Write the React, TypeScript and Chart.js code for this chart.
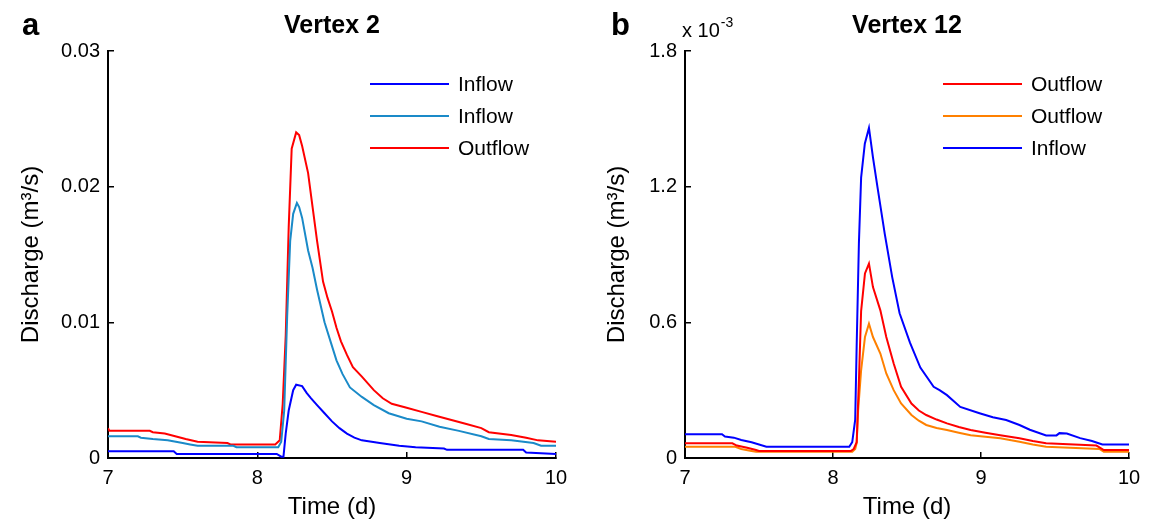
import React, { useEffect, useRef } from 'react';
import { Chart, registerables } from 'chart.js';

Chart.register(...registerables);

// ---------- data ----------
const timeTicks = [7, 8, 9, 10];
const v2Ticks = [0, 0.01, 0.02, 0.03];
const v12Ticks = [0, 0.6, 1.2, 1.8]; // ×10^-3

const v2Labels = ['Inflow', 'Inflow', 'Outflow'];
const v12Labels = ['Outflow', 'Outflow', 'Inflow'];

// Vertex 2, discharge in m3/s, [time (d), value]
const v2InflowA: [number, number][] = [
  [7.0, 0.0005], [7.44, 0.0005], [7.46, 0.0003], [8.13, 0.0003], [8.16, 0.0001], [8.175, 0.0001],
  [8.19, 0.0018], [8.21, 0.0035], [8.24, 0.005], [8.26, 0.0054], [8.3, 0.0053], [8.33, 0.0048],
  [8.36, 0.0044], [8.4, 0.0039], [8.45, 0.0033], [8.5, 0.0027], [8.55, 0.0022], [8.6, 0.0018],
  [8.65, 0.0015], [8.7, 0.0013], [8.82, 0.0011], [8.95, 0.0009], [9.06, 0.0008], [9.25, 0.0007],
  [9.27, 0.0006], [9.78, 0.0006], [9.8, 0.0004], [10.0, 0.0003],
];
const v2InflowB: [number, number][] = [
  [7.0, 0.0016], [7.2, 0.0016], [7.22, 0.0015], [7.3, 0.0014], [7.4, 0.0013], [7.5, 0.0011],
  [7.55, 0.001], [7.6, 0.0009], [7.84, 0.0009], [7.86, 0.0008], [8.14, 0.0008], [8.16, 0.0012],
  [8.18, 0.0035], [8.2, 0.0105], [8.22, 0.016], [8.24, 0.018], [8.265, 0.0188], [8.28, 0.0185],
  [8.3, 0.0177], [8.34, 0.0153], [8.37, 0.014], [8.4, 0.0124], [8.45, 0.01], [8.49, 0.0086],
  [8.53, 0.0072], [8.57, 0.0062], [8.62, 0.0052], [8.7, 0.0045], [8.78, 0.0039], [8.88, 0.0033],
  [9.0, 0.0029], [9.1, 0.0027], [9.22, 0.0023], [9.35, 0.002], [9.5, 0.0016], [9.55, 0.0014],
  [9.7, 0.0013], [9.85, 0.0011], [9.9, 0.0009], [10.0, 0.0009],
];
const v2Outflow: [number, number][] = [
  [7.0, 0.0022], [7.01, 0.002], [7.28, 0.002], [7.3, 0.0019], [7.38, 0.0018], [7.45, 0.0016],
  [7.52, 0.0014], [7.6, 0.0012], [7.8, 0.0011], [7.82, 0.001], [8.12, 0.001], [8.15, 0.0013],
  [8.17, 0.004], [8.19, 0.009], [8.21, 0.017], [8.23, 0.0228], [8.26, 0.024], [8.28, 0.0238],
  [8.3, 0.023], [8.34, 0.021], [8.37, 0.0185], [8.4, 0.016], [8.44, 0.013], [8.47, 0.0118],
  [8.5, 0.0108], [8.53, 0.0096], [8.56, 0.0086], [8.6, 0.0076], [8.64, 0.0067], [8.7, 0.006],
  [8.78, 0.005], [8.84, 0.0044], [8.9, 0.004], [9.0, 0.0037], [9.1, 0.0034], [9.2, 0.0031],
  [9.3, 0.0028], [9.4, 0.0025], [9.5, 0.0022], [9.55, 0.0019], [9.7, 0.0017], [9.8, 0.0015],
  [9.88, 0.0013], [10.0, 0.0012],
];

// Vertex 12, discharge in 10^-3 m3/s, [time (d), value]
const v12OutflowA: [number, number][] = [
  [7.0, 0.065], [7.32, 0.065], [7.35, 0.055], [7.42, 0.045], [7.48, 0.035], [7.5, 0.031],
  [8.12, 0.031], [8.14, 0.04], [8.16, 0.07], [8.176, 0.36], [8.19, 0.65], [8.216, 0.816],
  [8.243, 0.86], [8.27, 0.756], [8.32, 0.653], [8.36, 0.535], [8.41, 0.418], [8.46, 0.315],
  [8.53, 0.241], [8.58, 0.21], [8.63, 0.19], [8.7, 0.17], [8.77, 0.153], [8.85, 0.137],
  [8.93, 0.124], [9.03, 0.112], [9.13, 0.101], [9.26, 0.087], [9.35, 0.075], [9.44, 0.065],
  [9.78, 0.055], [9.83, 0.035], [10.0, 0.035],
];
const v12OutflowB: [number, number][] = [
  [7.0, 0.05], [7.34, 0.05], [7.38, 0.04], [7.44, 0.032], [7.48, 0.028], [8.13, 0.028],
  [8.15, 0.04], [8.16, 0.066], [8.17, 0.212], [8.19, 0.388], [8.216, 0.535], [8.243, 0.594],
  [8.27, 0.535], [8.32, 0.462], [8.36, 0.374], [8.41, 0.3], [8.46, 0.241], [8.53, 0.19],
  [8.58, 0.165], [8.63, 0.146], [8.7, 0.133], [8.77, 0.124], [8.85, 0.112], [8.93, 0.101],
  [9.03, 0.094], [9.13, 0.087], [9.26, 0.072], [9.35, 0.06], [9.44, 0.05], [9.8, 0.04],
  [9.83, 0.028], [10.0, 0.028],
];
const v12Inflow: [number, number][] = [
  [7.0, 0.105], [7.25, 0.105], [7.27, 0.095], [7.33, 0.09], [7.38, 0.08], [7.45, 0.07],
  [7.55, 0.05], [8.11, 0.05], [8.13, 0.07], [8.15, 0.17], [8.16, 0.5], [8.175, 0.95],
  [8.19, 1.24], [8.215, 1.39], [8.243, 1.46], [8.27, 1.33], [8.3, 1.2], [8.35, 0.99],
  [8.4, 0.8], [8.45, 0.64], [8.52, 0.51], [8.59, 0.4], [8.68, 0.315], [8.72, 0.3],
  [8.77, 0.278], [8.86, 0.226], [8.99, 0.198], [9.08, 0.18], [9.17, 0.168], [9.26, 0.146],
  [9.33, 0.125], [9.44, 0.1], [9.51, 0.1], [9.53, 0.11], [9.58, 0.108], [9.67, 0.088],
  [9.75, 0.075], [9.82, 0.06], [10.0, 0.06],
];

const v2Colors = ['#0000ff', '#1a8ac8', '#ff0000'];
const v12Colors = ['#ff0000', '#ff8000', '#0000ff'];

// ---------- chart helpers ----------
const FONT = '"Liberation Sans", Arial, sans-serif';

const insetLegend = {
  id: 'insetLegend',
  afterDatasetsDraw(chart: any) {
    const { ctx, chartArea } = chart;
    ctx.save();
    chart.data.datasets.forEach((ds: any, i: number) => {
      const y = chartArea.top + 33 + i * 32;
      const x0 = chartArea.right - 186;
      const x1 = chartArea.right - 107;
      ctx.strokeStyle = ds.borderColor;
      ctx.lineWidth = 2;
      ctx.beginPath();
      ctx.moveTo(x0, y);
      ctx.lineTo(x1, y);
      ctx.stroke();
      ctx.fillStyle = '#000';
      ctx.font = `21px ${FONT}`;
      ctx.textBaseline = 'middle';
      ctx.textAlign = 'left';
      ctx.fillText(ds.label, x1 + 9, y + 1);
    });
    ctx.restore();
  },
};

function annotations(letter: string, letterX: number, exponent: boolean) {
  return {
    id: 'panelText',
    afterDraw(chart: any) {
      const { ctx } = chart;
      ctx.save();
      ctx.fillStyle = '#000';
      ctx.textBaseline = 'alphabetic';
      ctx.textAlign = 'left';
      ctx.font = `bold 31px ${FONT}`;
      ctx.fillText(letter, letterX, 35);
      if (exponent) {
        ctx.font = `20px ${FONT}`;
        ctx.fillText('x 10', 106, 37);
        const w = ctx.measureText('x 10').width;
        ctx.font = `14px ${FONT}`;
        ctx.fillText('-3', 106 + w + 1, 27);
      }
      ctx.restore();
    },
  };
}

function makeConfig(
  title: string,
  series: [number, number][][],
  labels: string[],
  colors: string[],
  yTicks: number[],
  yDecimals: number,
  yAxisWidth: number,
  rightPad: number,
  yTitlePad: number,
  plugins: any[]
): any {
  return {
    type: 'line',
    data: {
      datasets: series.map((s, i) => ({
        label: labels[i],
        data: s.map(([x, y]) => ({ x, y })),
        borderColor: colors[i],
        backgroundColor: colors[i],
        borderWidth: 2,
        pointRadius: 0,
        tension: 0,
        fill: false,
      })),
    },
    options: {
      responsive: false,
      animation: false,
      devicePixelRatio: 1,
      layout: { padding: { left: 0, right: rightPad, top: 0, bottom: 0 } },
      plugins: {
        legend: { display: false },
        tooltip: { enabled: false },
        title: {
          display: true,
          text: title,
          fullSize: false,
          color: '#000',
          font: { family: FONT, size: 25, weight: 'bold' },
          padding: { top: 11, bottom: 10 },
        },
      },
      scales: {
        x: {
          type: 'linear',
          min: timeTicks[0],
          max: timeTicks[timeTicks.length - 1],
          afterBuildTicks: (scale: any) => {
            scale.ticks = timeTicks.map((v) => ({ value: v }));
          },
          afterFit: (scale: any) => {
            scale.height = 67;
            scale.paddingLeft = 0;
            scale.paddingRight = 0;
          },
          grid: {
            display: true,
            drawOnChartArea: false,
            drawTicks: true,
            tickLength: -6,
            color: '#000',
            lineWidth: 1.5,
          },
          border: { display: true, color: '#000', width: 2 },
          ticks: {
            color: '#000',
            padding: 14,
            maxRotation: 0,
            font: { family: FONT, size: 20 },
            callback: (v: number) => String(v),
          },
          title: {
            display: true,
            text: 'Time (d)',
            color: '#000',
            font: { family: FONT, size: 24 },
            padding: { top: 0, bottom: 3 },
          },
        },
        y: {
          type: 'linear',
          min: yTicks[0],
          max: yTicks[yTicks.length - 1],
          afterBuildTicks: (scale: any) => {
            scale.ticks = yTicks.map((v) => ({ value: v }));
          },
          afterFit: (scale: any) => {
            scale.width = yAxisWidth;
          },
          grid: {
            display: true,
            drawOnChartArea: false,
            drawTicks: true,
            tickLength: -6,
            color: '#000',
            lineWidth: 1.5,
          },
          border: { display: true, color: '#000', width: 2 },
          ticks: {
            color: '#000',
            padding: 14,
            font: { family: FONT, size: 20 },
            callback: (v: number) => (v === 0 ? '0' : Number(v).toFixed(yDecimals)),
          },
          title: {
            display: true,
            text: 'Discharge (m³/s)',
            color: '#000',
            font: { family: FONT, size: 24 },
            padding: { top: yTitlePad, bottom: 0 },
          },
        },
      },
    },
    plugins,
  };
}

function ChartCanvas({ config }: { config: () => any }) {
  const ref = useRef<HTMLCanvasElement | null>(null);
  useEffect(() => {
    if (!ref.current) return;
    const chart = new Chart(ref.current, config());
    return () => chart.destroy();
  }, []);
  return <canvas ref={ref} width={576} height={525} style={{ display: 'block', width: 576, height: 525 }} />;
}

export default function App() {
  return (
    <div
      style={{
        position: 'fixed',
        left: 0,
        top: 0,
        width: 1152,
        height: 525,
        background: '#fff',
        display: 'flex',
      }}
    >
      <ChartCanvas
        config={() =>
          makeConfig(
            'Vertex 2',
            [v2InflowA, v2InflowB, v2Outflow],
            v2Labels,
            v2Colors,
            v2Ticks,
            2,
            108,
            20,
            17,
            [insetLegend, annotations('a', 22, false)]
          )
        }
      />
      <ChartCanvas
        config={() =>
          makeConfig(
            'Vertex 12',
            [v12OutflowA, v12OutflowB, v12Inflow],
            v12Labels,
            v12Colors,
            v12Ticks,
            1,
            109,
            23,
            27,
            [insetLegend, annotations('b', 35, true)]
          )
        }
      />
    </div>
  );
}
